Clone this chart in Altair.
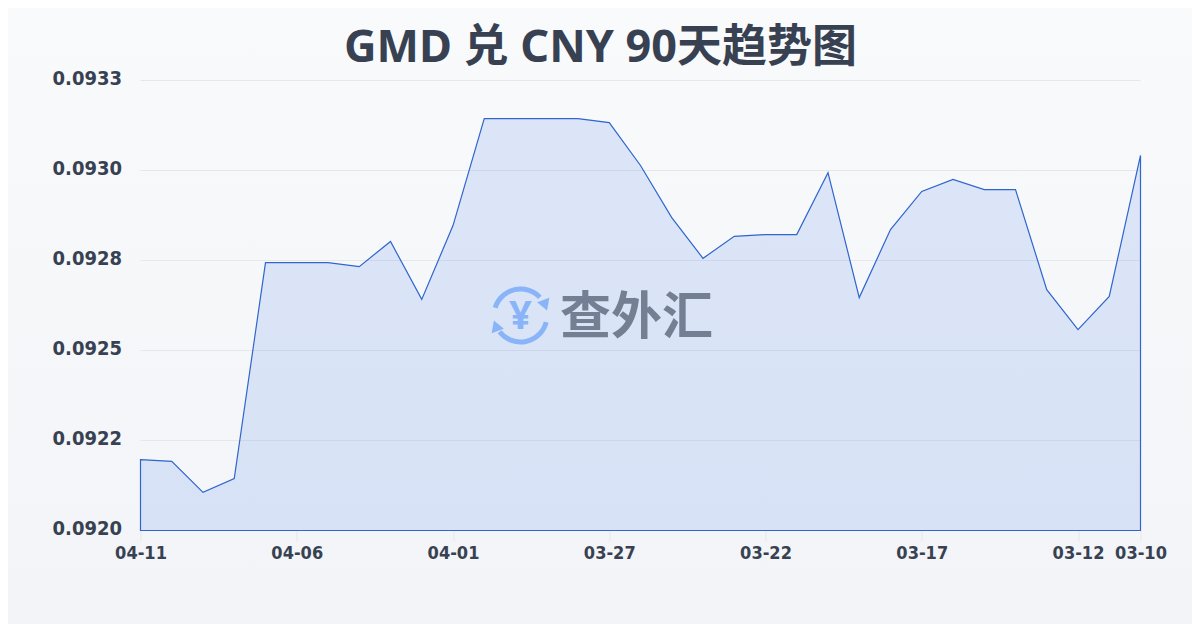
import altair as alt
import pandas as pd

dates = ["04-11","04-10","04-09","04-08","04-07","04-06","04-05","04-04","04-03","04-02","04-01",
         "03-31","03-30","03-29","03-28","03-27","03-26","03-25","03-24","03-23","03-22","03-21",
         "03-20","03-19","03-18","03-17","03-16","03-15","03-14","03-13","03-12","03-11","03-10"]
rates = [0.092197,0.092192,0.092106,0.092144,0.092744,0.092744,0.092744,0.092733,0.092803,0.092642,0.092847,
         0.093144,0.093144,0.093144,0.093144,0.093133,0.093014,0.092869,0.092756,0.092817,0.092822,0.092822,
         0.092994,0.092647,0.092836,0.092942,0.092975,0.092947,0.092947,0.092669,0.092558,0.092650,0.093042]
x_ticks = ["04-11","04-06","04-01","03-27","03-22","03-17","03-12","03-10"]
y_ticks = [0.0920,0.09225,0.0925,0.09275,0.0930,0.09325]
y_labels = ["0.0920","0.0922","0.0925","0.0928","0.0930","0.0933"]
title_text = "GMD 兑 CNY 90天趋势图"

TEXT = "#374151"
BLUE = "#2f65cc"
LOGO = "#8ab4f8"
TICK_FONT = "DejaVu Sans Condensed, DejaVu Sans"
one = alt.Data(values=[{"k": 1}])
df = pd.DataFrame({"date": dates, "rate": rates})
grid_df = pd.DataFrame({"tick": y_ticks})

label_map = ",".join(f"'{t:.5f}':'{l}'" for t, l in zip(y_ticks, y_labels))
label_expr = "{" + label_map + "}[format(datum.value,'.5f')]"

xs = alt.Scale(type="point", padding=0, domain=dates)
ys = alt.Scale(domain=[0.0920, 0.09325], nice=False, zero=False)
y_axis = alt.Axis(values=y_ticks, labelExpr=label_expr, labelFontSize=20, labelFontWeight="bold",
                  labelFont=TICK_FONT, labelColor=TEXT, ticks=False, domain=False, grid=False,
                  labelPadding=19, labelOffset=-2, zindex=1)

bg = alt.Chart(one).mark_rect(
    fill=alt.Gradient(gradient="linear", x1=0, y1=0, x2=0, y2=1,
                      stops=[alt.GradientStop(color="#f8fafc", offset=0),
                             alt.GradientStop(color="#f2f4f7", offset=1)])
).encode(x=alt.value(-133), x2=alt.value(1052), y=alt.value(-73), y2=alt.value(544))

grid = alt.Chart(grid_df).mark_rule(color="#e5e7eb", strokeWidth=1).encode(
    y=alt.Y("tick:Q", scale=ys, axis=y_axis, title=None))

area = alt.Chart(df).mark_area(
    fill="#2563eb", fillOpacity=0.13, stroke=BLUE, strokeWidth=1.2, strokeOpacity=1, interpolate="linear"
).encode(
    x=alt.X("date:N", scale=xs, sort=None, title=None,
            axis=alt.Axis(values=x_ticks, labelAngle=0, labelFontSize=18, labelFontWeight="bold",
                          labelFont=TICK_FONT, labelColor=TEXT, tickColor="#e5e7eb", tickSize=10,
                          domain=False, grid=False, labelPadding=4, labelOverlap=False, labelBound=False,
                          zindex=1)),
    y=alt.Y("rate:Q", scale=ys, title=None, axis=y_axis),
    y2=alt.Y2(datum=0.0920),
)

title = alt.Chart(one).mark_text(
    text=title_text, font="Noto Sans, Noto Sans CJK SC", fontSize=45, fontWeight="bold", color=TEXT,
    align="center", baseline="middle"
).encode(x=alt.value(460), y=alt.value(-33))

wm_text = alt.Chart(one).mark_text(
    text="查外汇", font="Noto Sans CJK SC", fontSize=51, fontWeight="bold", color="#757f94",
    align="center", baseline="middle"
).encode(x=alt.value(496), y=alt.value(238))

arc_top = alt.Chart(one).mark_arc(fill=LOGO, radius=29, radius2=24, theta=5.01, theta2=7.1).encode(
    x=alt.value(380), y=alt.value(235))
arc_bot = alt.Chart(one).mark_arc(fill=LOGO, radius=29, radius2=24, theta=1.82, theta2=4.05).encode(
    x=alt.value(380), y=alt.value(235))
arrow_a = alt.Chart(one).mark_point(shape="triangle", filled=True, fill=LOGO, opacity=1, size=170, angle=160).encode(
    x=alt.value(404), y=alt.value(223))
arrow_b = alt.Chart(one).mark_point(shape="triangle", filled=True, fill=LOGO, opacity=1, size=170, angle=340).encode(
    x=alt.value(356), y=alt.value(247))
yen = alt.Chart(one).mark_text(
    text="¥", font="Noto Sans", fontSize=40, fontWeight="bold", color=LOGO, align="center", baseline="middle"
).encode(x=alt.value(380), y=alt.value(236))

chart = alt.layer(bg, grid, area, wm_text, arc_top, arc_bot, arrow_a, arrow_b, yen, title).properties(
    width=1000, height=450,
    padding={"left": 132.5, "top": 72.5, "right": 51.5, "bottom": 93.5},
    autosize=alt.AutoSizeParams(type="none"),
    background="#f5f7f9",
).configure_view(stroke=None)

chart.save("out.html", embed_options={"renderer": "svg", "actions": False})
